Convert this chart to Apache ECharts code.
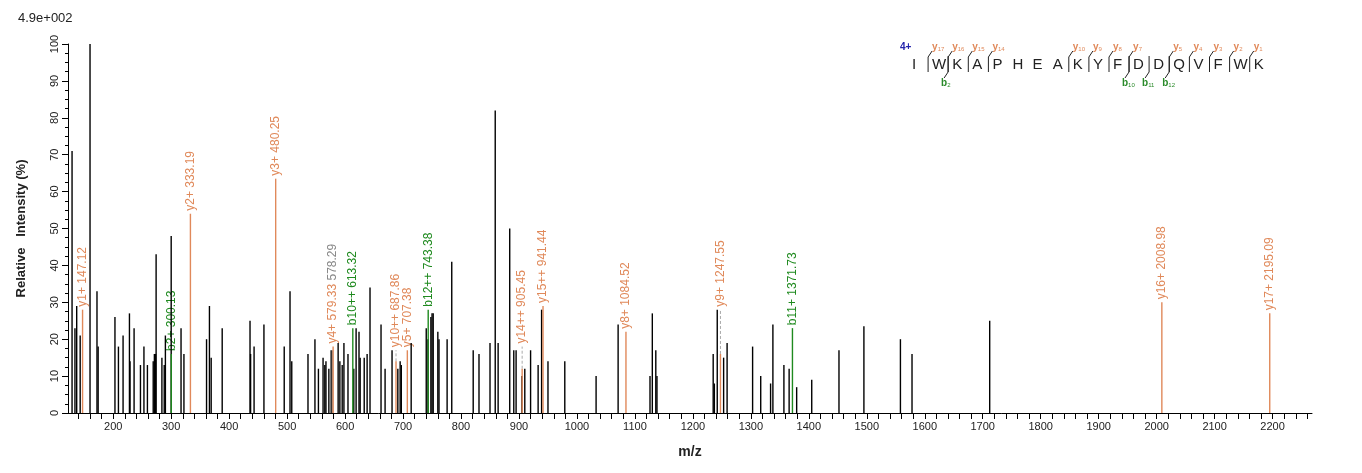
<!DOCTYPE html>
<html>
<head>
<meta charset="utf-8">
<script src="https://cdn.jsdelivr.net/npm/echarts@6/dist/echarts.min.js"></script>
<style>html,body{margin:0;padding:0;background:#fff}#chart{width:1362px;height:473px}</style>
</head>
<body>
<div id="chart"></div>
<script>
// unannotated peaks: [m/z, relative intensity]
var plainPeaks = [
  [129,71],[134,23],[137,29],[143,21],[160,100],[172,33],[174,18],[203,26],[209,18],[217,21],
  [228,27],[229,14],[236,23],[247,13],[253,18],[259,13],[269,14],[271,16],[273,16],[274,43],
  [284,15],[288,13],[290,21],[300,48],[317,23],[322,16],[361,20],[366,29],[369,15],[388,23],
  [436,25],[437,16],[443,18],[460,24],[495,18],[505,33],[508,14],[536,16],[548,20],[554,12],
  [562,15],[565,13],[567,14],[572,12],[576,17],[588,19],[591,14],[595,13],[598,19],[605,16],
  [615,12],[619,23],[624,22],[626,15],[633,15],[638,16],[643,34],[662,24],[669,12],[681,17],
  [691,12],[695,14],[697,13],[714,19],[740,23],[743,20],[748,26],[750,27],[752,27],[760,22],
  [762,20],[776,20],[784,41],[821,17],[831,16],[850,19],[859,82],[864,19],[884,50],[891,17],
  [895,17],[905,10],[910,12],[920,17],[933,13],[939,28],[950,14],[979,14],[1033,10],[1071,24],
  [1126,10],[1130,27],[1136,17],[1138,10],[1235,16],[1237,8],[1242,28],[1253,15],[1259,19],
  [1303,18],[1317,10],[1334,8],[1338,24],[1357,13],[1366,12],[1379,7],[1405,9],[1452,17],
  [1495,23.5],[1558,20],[1578,16],[1712,25]
];
// annotated y ions: [m/z, intensity, label, label height]
var yIons = [
  [147.12,28,'y1+ 147.12',28],[333.19,54,'y2+ 333.19',54],[480.25,63.5,'y3+ 480.25',63.5],
  [579.33,18,'y4+ 579.33',18],[687.86,14,'y10++ 687.86',17],[707.38,17,'y5+ 707.38',17],
  [905.45,12,'y14++ 905.45',18],[941.44,29,'y15++ 941.44',29],[1084.52,22,'y8+ 1084.52',22],
  [1247.55,16,'y9+ 1247.55',28],[2008.98,30,'y16+ 2008.98',30],[2195.09,27,'y17+ 2195.09',27]
];
// annotated b ions
var bIons = [
  [300.13,16,'b2+ 300.13',16],[613.32,23,'b10++ 613.32',23],[743.38,28,'b12++ 743.38',28],[1371.73,23,'b11+ 1371.73',23]
];
var otherIons = [[578.29,17]];

var xLabels = [];
for (var v = 200; v <= 2200; v += 100) xLabels.push(v);
var xTicks = [];
for (var t = 140; t <= 2260; t += 20) xTicks.push(t);

var sequence = ['I','W','K','A','P','H','E','A','K','Y','F','D','D','Q','V','F','W','K'];
var yMarks = {1:'17',2:'16',3:'15',4:'14',8:'10',9:'9',10:'8',11:'7',13:'5',14:'4',15:'3',16:'2',17:'1'};
var bMarks = {1:'2',10:'10',11:'11',12:'12'};

var FONT = 'Liberation Sans, Arial';

function ionSeries(list, color) {
  return [{
    type: 'bar', barWidth: 1.4, barGap: '-100%', silent: true,
    itemStyle: { color: color },
    data: list.map(function (d) { return [d[0], d[1]]; })
  }, {
    // dashed leader from the peak up to its label, then the label
    type: 'custom', silent: true,
    renderItem: function (params, api) {
      var p0 = api.coord([api.value(0), api.value(1)]);
      var p1 = api.coord([api.value(0), api.value(3)]);
      var d = list[params.dataIndex];
      var txt = d[2] === 'y4+ 579.33' ? '{o|y4+ 579.33} {g|578.29}' : d[2];
      var children = [{
        type: 'text', x: p1[0], y: p1[1] - 3, rotation: Math.PI / 2,
        style: { text: txt, fill: color, font: '12px ' + FONT, align: 'left', verticalAlign: 'middle',
          rich: { o: { fill: color, font: '12px ' + FONT }, g: { fill: '#888', font: '12px ' + FONT } } }
      }];
      if (p1[1] < p0[1] - 1) {
        children.push({ type: 'line', shape: { x1: p0[0], y1: p0[1], x2: p1[0], y2: p1[1] },
          style: { stroke: '#aaa', lineWidth: 1, lineDash: [3, 2] } });
      }
      return { type: 'group', children: children };
    },
    encode: { x: 0, y: 3 },
    data: list
  }];
}

var graphics = [
  { type: 'text', left: 18, top: 12, style: { text: '4.9e+002', font: '13px ' + FONT, fill: '#222' } },
  { type: 'text', left: 900, top: 42, style: { text: '4+', font: 'bold 10px ' + FONT, fill: '#2222aa' } }
];
sequence.forEach(function (aa, i) {
  var x = 917 + i * 20.1;
  graphics.push({ type: 'text', left: x - 5, top: 57, style: { text: aa, font: '15px ' + FONT, fill: '#222' } });
  if (yMarks[i]) {
    graphics.push({ type: 'polyline', shape: { points: [[x - 9, 72], [x - 9, 57], [x - 5, 51]] }, style: { stroke: '#222', lineWidth: 1 } });
    graphics.push({ type: 'text', left: x - 5, top: 42, style: { text: '{a|y}{s|' + yMarks[i] + '}', rich: { a: { fill: '#e0895a', font: 'bold 10px ' + FONT }, s: { fill: '#e0895a', font: '6px ' + FONT, padding: [4, 0, 0, 0] } } } });
  }
  if (bMarks[i]) {
    var bx = x + 11;
    graphics.push({ type: 'polyline', shape: { points: [[bx, 56], [bx, 72], [bx - 4, 78]] }, style: { stroke: '#222', lineWidth: 1 } });
    graphics.push({ type: 'text', left: bx - 7, top: 78, style: { text: '{a|b}{s|' + bMarks[i] + '}', rich: { a: { fill: '#2a8a2a', font: 'bold 10px ' + FONT }, s: { fill: '#2a8a2a', font: '6px ' + FONT, padding: [4, 0, 0, 0] } } } });
  }
});

var series = [
  { type: 'bar', barWidth: 1.4, barGap: '-100%', silent: true, itemStyle: { color: '#000' }, data: plainPeaks },
  { type: 'bar', barWidth: 1.4, barGap: '-100%', silent: true, itemStyle: { color: '#888' }, data: otherIons }
].concat(ionSeries(yIons, '#e0895a'), ionSeries(bIons, '#1f8a1f'));

var chart = echarts.init(document.getElementById('chart'));
chart.setOption({
  animation: false,
  grid: { left: 68, right: 50, top: 44, bottom: 60 },
  xAxis: {
    type: 'value', min: 122, max: 2268,
    name: 'm/z', nameLocation: 'middle', nameGap: 32,
    nameTextStyle: { fontWeight: 'bold', fontSize: 14, color: '#222', fontFamily: FONT },
    axisLine: { lineStyle: { color: '#000', width: 1 } },
    axisTick: { show: true, length: 6, customValues: xTicks, lineStyle: { color: '#000' } },
    axisLabel: { customValues: xLabels, formatter: function (v) { return String(v); }, color: '#222', fontSize: 11, fontFamily: FONT },
    splitLine: { show: false }
  },
  yAxis: {
    type: 'value', min: 0, max: 100, interval: 10,
    name: 'Relative   Intensity (%)', nameLocation: 'middle', nameGap: 40,
    nameTextStyle: { fontWeight: 'bold', fontSize: 13, color: '#222', fontFamily: FONT },
    axisLine: { show: true, lineStyle: { color: '#000' } },
    axisTick: { show: true, length: 6, lineStyle: { color: '#000' } },
    minorTick: { show: true, splitNumber: 4, length: 3, lineStyle: { color: '#000' } },
    axisLabel: { rotate: 90, color: '#222', fontSize: 11, fontFamily: FONT },
    splitLine: { show: false }
  },
  series: series,
  graphic: graphics
});
</script>
</body>
</html>
